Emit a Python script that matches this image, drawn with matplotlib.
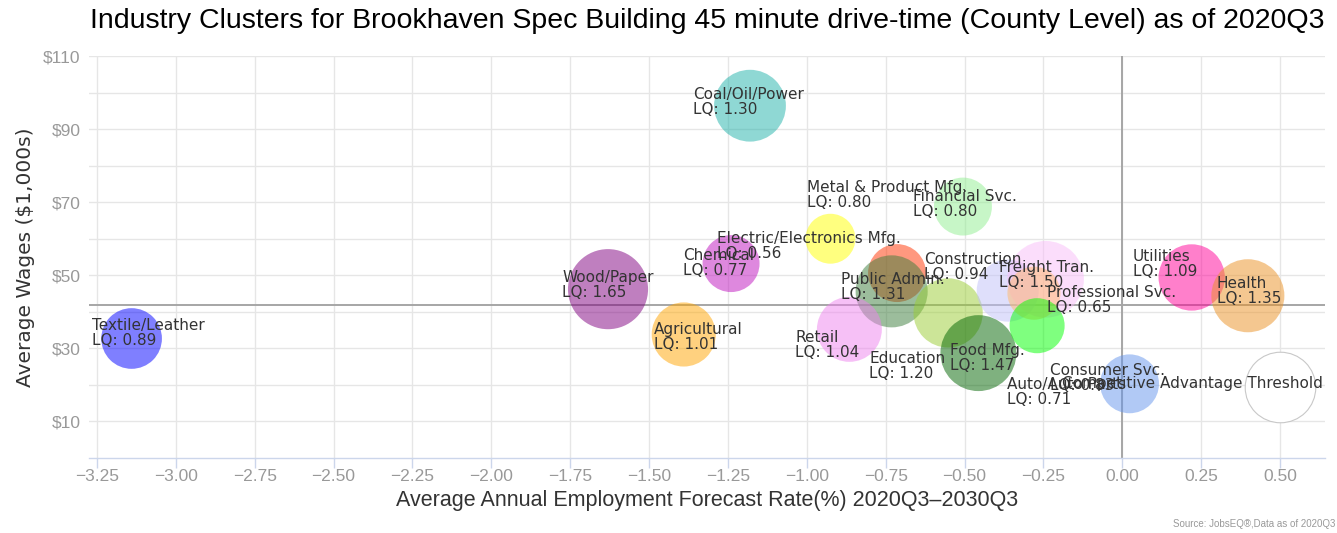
import numpy as np
import matplotlib
matplotlib.use("Agg")
import matplotlib.pyplot as plt
from matplotlib.ticker import MultipleLocator, FixedLocator, FuncFormatter
from matplotlib.colors import to_rgba

# cluster data
clusters = [
    "Textile/Leather", "Coal/Oil/Power", "Wood/Paper", "Agricultural", "Chemical",
    "Electric/Electronics Mfg.", "Metal & Product Mfg.", "Financial Svc.",
    "Public Admin.", "Retail", "Education", "Food Mfg.", "Construction",
    "Freight Tran.", "Professional Svc.", "Auto/Auto Parts", "Consumer Svc.",
    "Utilities", "Health",
]
growth = [-3.14, -1.18, -1.63, -1.39, -1.24, -0.925, -0.714, -0.505, -0.731,
          -0.865, -0.552, -0.456, -0.363, -0.243, -0.280, -0.270, 0.023,
          0.220, 0.398]
wages = [32.7, 96.4, 46.2, 33.8, 53.2, 60.0, 50.6, 68.8, 45.6, 35.2, 39.7,
         28.7, 45.8, 48.9, 45.1, 36.2, 20.3, 49.4, 44.4]
lq = [0.89, 1.30, 1.65, 1.01, 0.77, 0.56, 0.80, 0.80, 1.31, 1.04, 1.20, 1.47,
      0.94, 1.50, 0.65, 0.71, 0.83, 1.09, 1.35]

threshold_label = "Competitive Advantage Threshold"
threshold_x, threshold_y, threshold_lq = 0.5, 19.4, 1.25
avg_wage_line = 41.8
growth_line = 0.0

colors = ["#0000ff", "#20b2aa", "#800080", "#ffa500", "#bf13bf", "#ffff00",
          "#ff3300", "#90ee90", "#3b7d3b", "#ee82ee", "#9acd32", "#006400",
          "#c1c1f9", "#f9bdf9", "#ffb969", "#00ff00", "#6495ed", "#ff0099",
          "#eb9123"]

# label offsets from bubble centre, in pixels (left, top)
label_off = [(-40, -17), (-57, -16), (-46, -16), (-30, -9), (-48, -13),
             (-113, -5), (-90, -90), (-50, -15), (-51, -16), (-54, 4),
             (-79, 41), (-28, -7), (-84, -36), (-47, -16), (13, -5),
             (-30, 54), (-80, -18), (-59, -25), (-31, -17)]

DPI = 100
PX = 72.0 / DPI


def bubble_area(v):
    r_px = np.sqrt(119 + 900 * np.asarray(v))
    return (2 * r_px * PX) ** 2


fig = plt.figure(figsize=(13.37, 5.33), dpi=DPI)
ax = fig.add_axes([89 / 1337, 1 - 458 / 533, (1325 - 89) / 1337, (458 - 56) / 533])

ax.set_xlim(-3.275, 0.6425)
ax.set_ylim(0, 110)

ax.xaxis.set_major_locator(MultipleLocator(0.25))
ax.xaxis.set_major_formatter(FuncFormatter(lambda v, p: f"{v:.2f}".replace("-", "\u2212")))
ax.yaxis.set_major_locator(FixedLocator(list(range(10, 111, 10))))
ax.yaxis.set_major_formatter(FuncFormatter(lambda v, p: f"${int(v)}" if int(round(v)) % 20 == 10 else ""))

ax.grid(True, color="#e6e6e6", linewidth=1)
ax.set_axisbelow(True)
for s in ["top", "right", "left"]:
    ax.spines[s].set_visible(False)
ax.spines["bottom"].set_color("#ccd6eb")
ax.spines["bottom"].set_linewidth(1)
ax.tick_params(axis="x", colors="#ccd6eb", length=7, width=1, labelcolor="#999999",
               labelsize=12.5, pad=1, labelfontfamily="Liberation Sans")
ax.tick_params(axis="y", length=0, labelcolor="#999999", labelsize=12.5, pad=6,
               labelfontfamily="Liberation Sans")

ax.axhline(avg_wage_line, color="#a6a6a6", linewidth=1.4, zorder=1)
ax.axvline(growth_line, color="#a6a6a6", linewidth=1.4, zorder=1)

fills = [to_rgba(c, 0.5) for c in colors]
ax.scatter(growth, wages, s=bubble_area(lq), c=fills, edgecolors="none", zorder=2)
ax.scatter([threshold_x], [threshold_y], s=bubble_area([threshold_lq]),
           facecolors="white", edgecolors="#c8c8c8", linewidths=0.8, zorder=2)

for name, x, y, v, (dx, dy) in zip(clusters, growth, wages, lq, label_off):
    ax.annotate(f"{name}\nLQ: {v:.2f}", xy=(x, y), xytext=(dx * PX, -(dy - 3) * PX),
                textcoords="offset points", ha="left", va="top", fontsize=11,
                color="#333333", linespacing=1.0, zorder=5, annotation_clip=False)
ax.annotate(threshold_label, xy=(threshold_x, threshold_y), xytext=(43 * PX, 11 * PX),
            textcoords="offset points", ha="right", va="top", fontsize=11,
            color="#333333", zorder=5, annotation_clip=False)

ax.set_title("Industry Clusters for Brookhaven Spec Building 45 minute drive-time (County Level) as of 2020Q3",
             fontsize=20.5, family="Liberation Sans", color="#000000", pad=20)
ax.set_xlabel("Average Annual Employment Forecast Rate(%) 2020Q3\u20132030Q3",
              fontsize=15.5, family="Liberation Sans", color="#333333", labelpad=4)
ax.set_ylabel("Average Wages ($1,000s)", fontsize=14.5, color="#333333", labelpad=6)

fig.text(1335 / 1337, 1 - 524 / 533, "Source: JobsEQ\u00ae,Data as of 2020Q3", ha="right",
         va="center", fontsize=7, color="#999999", family="Liberation Sans")

fig.savefig("out.png", dpi=DPI)
